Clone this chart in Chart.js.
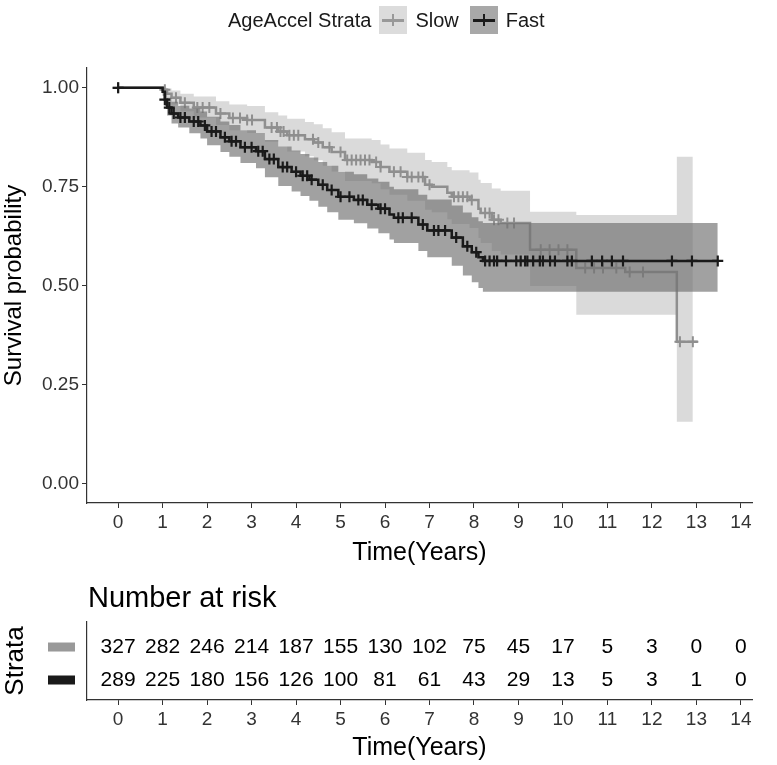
<!DOCTYPE html>
<html>
<head>
<meta charset="utf-8">
<script src="https://cdn.jsdelivr.net/npm/chart.js@4.4.1/dist/chart.umd.min.js"></script>
<style>
  body { margin: 0; background: #fff; font-family: "Liberation Sans", Arial, sans-serif; }
  #wrap { position: relative; width: 777px; height: 765px; }
  #c1 { position: absolute; left: 0; top: 0; }
  #c2 { position: absolute; left: 0; top: 570px; }
  #legend { position: absolute; top: 6px; left: 228px; height: 28px; display: flex; align-items: center; font-size: 20px; color: #1a1a1a; }
  .key { position: relative; width: 28px; height: 28px; margin: 0 8px 0 8px; }
  .key .h { position: absolute; left: 3px; right: 3px; top: 13px; height: 2.5px; }
  .key .v { position: absolute; top: 8px; height: 12px; left: 13px; width: 2px; }
  #riskTitle { position: absolute; left: 88px; top: 581px; font-size: 29px; line-height: 32px; color: #000; }
</style>
</head>
<body>
<div id="wrap">
  <canvas id="c1" width="777" height="570"></canvas>
  <canvas id="c2" width="777" height="195"></canvas>
  <div id="legend">
    <span>AgeAccel Strata</span>
    <div class="key" style="background:#dcdcdc"><div class="h" style="background:#999"></div><div class="v" style="background:#999"></div></div>
    <span style="margin-right:3px">Slow</span>
    <div class="key" style="background:#a8a8a8"><div class="h" style="background:#1a1a1a"></div><div class="v" style="background:#1a1a1a"></div></div>
    <span>Fast</span>
  </div>
  <div id="riskTitle">Number at risk</div>
</div>
<script>
// axis ticks
const xTicks = [0, 1, 2, 3, 4, 5, 6, 7, 8, 9, 10, 11, 12, 13, 14];
const yTicks = [0, 0.25, 0.5, 0.75, 1];

// Slow stratum: KM steps + confidence band
const slowTimes = [0, 1.0, 1.1, 1.2, 1.4, 1.7, 2.2, 2.5, 2.9, 3.3, 3.6, 3.8, 4.2, 4.4, 4.6, 4.8, 5.1, 5.7, 5.9, 6.1, 6.5, 6.9, 7.05, 7.4, 7.5, 7.9, 8.1, 8.15, 8.4, 8.6, 9.26, 10.3, 11.4, 12.56];
const slowSurv  = [1, 0.995, 0.985, 0.975, 0.962, 0.95, 0.935, 0.924, 0.919, 0.90, 0.89, 0.88, 0.87, 0.862, 0.85, 0.838, 0.818, 0.813, 0.80, 0.788, 0.775, 0.755, 0.75, 0.735, 0.725, 0.717, 0.695, 0.684, 0.667, 0.659, 0.591, 0.545, 0.535, 0.359];
const slowUpper = [1, 1, 0.998, 0.993, 0.985, 0.978, 0.966, 0.958, 0.954, 0.938, 0.93, 0.922, 0.914, 0.908, 0.898, 0.888, 0.872, 0.868, 0.857, 0.847, 0.836, 0.818, 0.813, 0.80, 0.792, 0.786, 0.768, 0.76, 0.746, 0.74, 0.687, 0.679, 0.679, 0.826];
const slowLower = [1, 0.985, 0.972, 0.958, 0.941, 0.925, 0.906, 0.893, 0.886, 0.864, 0.851, 0.839, 0.827, 0.817, 0.803, 0.789, 0.765, 0.759, 0.744, 0.73, 0.715, 0.692, 0.686, 0.668, 0.656, 0.646, 0.621, 0.608, 0.588, 0.579, 0.50, 0.427, 0.427, 0.157];
const slowEnd = 13.03;
const slowBandEnd = 12.92;
const slowCensor = [0, 1.05, 1.3, 1.5, 1.78, 1.9, 2.05, 2.3, 2.58, 2.74, 2.9, 3.01, 3.45, 3.57, 3.65, 3.72, 3.85, 3.95, 4.05, 4.38, 4.5, 4.75, 5.0, 5.15, 5.25, 5.35, 5.45, 5.55, 5.65, 5.8, 5.9, 6.2, 6.35, 6.5, 6.6, 6.75, 6.85, 7.0, 7.55, 7.65, 7.75, 7.85, 7.95, 8.25, 8.35, 8.45, 8.55, 8.75, 8.9, 9.5, 9.7, 9.9, 10.1, 10.5, 10.7, 10.9, 11.2, 11.5, 11.8, 12.63, 12.92];

// Fast stratum
const fastTimes = [0, 1.0, 1.05, 1.1, 1.2, 1.35, 1.6, 1.85, 2.0, 2.3, 2.5, 2.75, 3.1, 3.3, 3.6, 3.9, 4.1, 4.3, 4.5, 4.7, 4.95, 5.3, 5.6, 5.85, 6.1, 6.2, 6.75, 6.95, 7.5, 7.75, 7.95, 8.1, 8.2];
const fastSurv  = [1, 0.99, 0.97, 0.95, 0.935, 0.925, 0.915, 0.905, 0.89, 0.875, 0.865, 0.85, 0.84, 0.82, 0.80, 0.788, 0.778, 0.768, 0.755, 0.742, 0.725, 0.717, 0.705, 0.695, 0.68, 0.672, 0.655, 0.64, 0.622, 0.60, 0.585, 0.572, 0.563];
const fastUpper = [1, 1, 0.99, 0.975, 0.965, 0.955, 0.948, 0.94, 0.927, 0.915, 0.906, 0.893, 0.886, 0.868, 0.852, 0.842, 0.833, 0.824, 0.813, 0.803, 0.788, 0.782, 0.771, 0.763, 0.75, 0.744, 0.73, 0.718, 0.703, 0.685, 0.673, 0.663, 0.659];
const fastLower = [1, 0.98, 0.955, 0.93, 0.91, 0.90, 0.885, 0.872, 0.855, 0.838, 0.826, 0.81, 0.797, 0.774, 0.752, 0.738, 0.727, 0.715, 0.70, 0.686, 0.667, 0.658, 0.645, 0.633, 0.617, 0.608, 0.588, 0.572, 0.551, 0.526, 0.509, 0.495, 0.485];
const fastEnd = 13.48;
const fastCensor = [0, 1.05, 1.15, 1.25, 1.4, 1.5, 1.7, 1.8, 1.95, 2.1, 2.2, 2.4, 2.55, 2.65, 2.85, 3.0, 3.15, 3.25, 3.4, 3.5, 3.7, 3.8, 4.0, 4.15, 4.25, 4.35, 4.6, 4.8, 5.0, 5.2, 5.4, 5.5, 5.7, 5.9, 6.0, 6.3, 6.4, 6.6, 6.85, 7.1, 7.2, 7.35, 7.6, 7.85, 8.05, 8.25, 8.35, 8.45, 8.52, 8.72, 8.95, 9.05, 9.15, 9.2, 9.33, 9.48, 9.55, 9.71, 9.82, 10.1, 10.2, 10.65, 10.88, 11.1, 11.35, 12.45, 12.9, 13.48];

// Number at risk table
const strata = ["Slow", "Fast"];
const riskTimes = [0, 1, 2, 3, 4, 5, 6, 7, 8, 9, 10, 11, 12, 13, 14];
const riskSlow = [327, 282, 246, 214, 187, 155, 130, 102, 75, 45, 17, 5, 3, 0, 0];
const riskFast = [289, 225, 180, 156, 126, 100, 81, 61, 43, 29, 13, 5, 3, 1, 0];

const FONT = "'Liberation Sans', Arial, sans-serif";
Chart.defaults.font.family = FONT;

function stepData(times, vals, endT) {
  const d = times.map((t, i) => ({ x: t, y: vals[i] }));
  d.push({ x: endT, y: vals[vals.length - 1] });
  return d;
}
function survAt(times, vals, t) {
  let s = vals[0];
  for (let i = 0; i < times.length; i++) if (times[i] <= t) s = vals[i];
  return s;
}

function xAxis(h) {
  return {
    type: 'linear', min: -0.7, max: 14.25,
    afterBuildTicks: s => { s.ticks = xTicks.map(v => ({ value: v })); },
    afterFit: s => { s.height = h; },
    border: { display: true, color: '#333', width: 1.2 },
    grid: { drawOnChartArea: false, drawTicks: true, tickLength: 5, color: '#333' },
    ticks: { color: '#333', font: { size: 19 }, padding: 3, maxRotation: 0 },
    title: { display: true, text: 'Time(Years)', color: '#000', font: { size: 25 }, padding: { top: 0, bottom: 2 } }
  };
}

const lineBase = { stepped: 'before', pointRadius: 0, tension: 0 };

new Chart(document.getElementById('c1'), {
  type: 'line',
  data: {
    datasets: [
      { ...lineBase, data: stepData(slowTimes, slowUpper, slowBandEnd), borderWidth: 0, fill: '+1', backgroundColor: 'rgba(193,193,193,0.6)', order: 8 },
      { ...lineBase, data: stepData(slowTimes, slowLower, slowBandEnd), borderWidth: 0, fill: false, order: 8 },
      { ...lineBase, data: stepData(slowTimes, slowSurv, slowEnd), borderColor: '#8f8f8f', borderWidth: 2.5, fill: false, order: 7 },
      { data: slowCensor.map(t => ({ x: t, y: survAt(slowTimes, slowSurv, t) })), showLine: false, pointStyle: 'cross', pointRadius: 5.5, borderColor: '#8f8f8f', pointBorderWidth: 2, order: 6 },
      { ...lineBase, data: stepData(fastTimes, fastUpper, fastEnd), borderWidth: 0, fill: '+1', backgroundColor: 'rgba(112,112,112,0.66)', order: 5 },
      { ...lineBase, data: stepData(fastTimes, fastLower, fastEnd), borderWidth: 0, fill: false, order: 5 },
      { ...lineBase, data: stepData(fastTimes, fastSurv, fastEnd), borderColor: '#1a1a1a', borderWidth: 2.5, fill: false, order: 4 },
      { data: fastCensor.map(t => ({ x: t, y: survAt(fastTimes, fastSurv, t) })), showLine: false, pointStyle: 'cross', pointRadius: 5.5, borderColor: '#1a1a1a', pointBorderWidth: 2.2, order: 3 }
    ]
  },
  options: {
    responsive: false, animation: false,
    layout: { padding: { top: 68, right: 25, left: 0, bottom: 0 } },
    plugins: { legend: { display: false }, tooltip: { enabled: false } },
    scales: {
      x: xAxis(67),
      y: {
        type: 'linear', min: -0.048, max: 1.05,
        afterBuildTicks: s => { s.ticks = yTicks.map(v => ({ value: v })); },
        afterFit: s => { s.width = 87; },
        border: { display: true, color: '#333', width: 1.2 },
        grid: { drawOnChartArea: false, drawTicks: true, tickLength: 5, color: '#333' },
        ticks: { color: '#333', font: { size: 19 }, padding: 3, callback: v => v.toFixed(2) },
        title: { display: true, text: 'Survival probability', color: '#000', font: { size: 24 }, padding: { top: 0, bottom: 0 } }
      }
    }
  }
});

// risk table
const riskPlugin = {
  id: 'riskText',
  afterDatasetsDraw(chart) {
    const ctx = chart.ctx;
    const yS = chart.scales.y;
    ctx.save();
    ctx.font = "21px " + FONT;
    ctx.textAlign = 'center';
    ctx.textBaseline = 'middle';
    chart.data.datasets.forEach((ds, di) => {
      const meta = chart.getDatasetMeta(di);
      ctx.fillStyle = '#000';
      meta.data.forEach((pt, i) => ctx.fillText(String(ds.counts[i]), pt.x, pt.y));
      ctx.fillStyle = ds.keyColor;
      ctx.fillRect(chart.chartArea.left - 39, yS.getPixelForValue(ds.row) - 4.5, 27, 9);
    });
    ctx.restore();
  }
};

new Chart(document.getElementById('c2'), {
  type: 'line',
  data: {
    datasets: [
      { label: strata[0], row: 1, counts: riskSlow, keyColor: '#999999', data: riskTimes.map(t => ({ x: t, y: 1 })), showLine: false, pointRadius: 0 },
      { label: strata[1], row: 0, counts: riskFast, keyColor: '#1a1a1a', data: riskTimes.map(t => ({ x: t, y: 0 })), showLine: false, pointRadius: 0 }
    ]
  },
  options: {
    responsive: false, animation: false,
    layout: { padding: { top: 52, right: 25, left: 0, bottom: 0 } },
    plugins: { legend: { display: false }, tooltip: { enabled: false } },
    scales: {
      x: xAxis(65),
      y: {
        type: 'linear', min: -0.606, max: 1.758,
        afterFit: s => { s.width = 87; },
        border: { display: true, color: '#333', width: 1.2 },
        grid: { display: false, drawTicks: false },
        ticks: { display: false },
        title: { display: true, text: 'Strata', color: '#000', font: { size: 26 }, padding: { top: 0, bottom: 0 } }
      }
    }
  },
  plugins: [riskPlugin]
});
</script>
</body>
</html>
